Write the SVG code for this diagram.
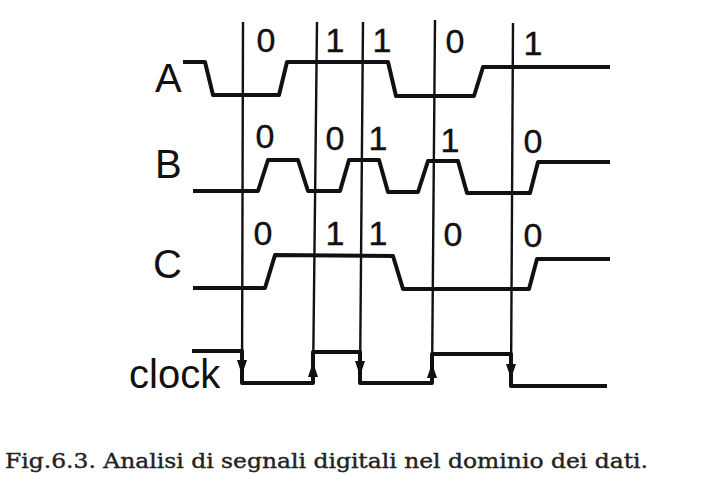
<svg xmlns="http://www.w3.org/2000/svg" width="702" height="479" viewBox="0 0 702 479">
<style>
.sig{fill:none;stroke:#111;stroke-width:4;stroke-linejoin:round;stroke-linecap:butt}
.grid{stroke:#111;stroke-width:2.4}
.lbl{font-family:"Liberation Sans",Arial,sans-serif;font-size:40px;fill:#111}
.dig{font-family:"Liberation Sans",Arial,sans-serif;font-size:34px;fill:#111;text-anchor:middle;stroke:#111;stroke-width:0.4}
.cap{font-family:"DejaVu Serif","Liberation Serif",serif;font-size:21px;fill:#222;stroke:#222;stroke-width:0.4}
</style>
<defs>
<path id="dn" d="M-5,-7 L5,-7 L0,8 Z" fill="#111"/>
<path id="up" d="M-5,7 L5,7 L0,-8 Z" fill="#111"/>
</defs>
<rect width="702" height="479" fill="#fff"/>
<g id="grid">
<line class="grid" x1="243" y1="22" x2="242" y2="383"/>
<line class="grid" x1="317" y1="22" x2="313" y2="383"/>
<line class="grid" x1="363" y1="22" x2="360" y2="383"/>
<line class="grid" x1="435" y1="20" x2="432" y2="383"/>
<line class="grid" x1="513" y1="23" x2="511" y2="386"/>
</g>
<g id="signal-A">
<text class="lbl" x="155" y="92">A</text>
<path class="sig" d="M183,62 L205,62 L213,95 L279,95 L287,62 L388,62 L396,96 L474,96 L483,67 L610,67"/>
<text class="dig" x="266" y="52">0</text>
<text class="dig" x="335" y="52">1</text>
<text class="dig" x="382" y="52">1</text>
<text class="dig" x="455" y="53">0</text>
<text class="dig" x="533" y="55">1</text>
</g>
<g id="signal-B">
<text class="lbl" x="155" y="178">B</text>
<path class="sig" d="M193,191 L258,191 L268,160 L298,160 L308,191 L340,191 L349,160 L379,160 L388,192 L418,192 L428,161 L458,161 L467,193 L530,193 L538,162 L610,162"/>
<text class="dig" x="265" y="148">0</text>
<text class="dig" x="335" y="150">0</text>
<text class="dig" x="378" y="150">1</text>
<text class="dig" x="450" y="152">1</text>
<text class="dig" x="533" y="153">0</text>
</g>
<g id="signal-C">
<text class="lbl" x="153" y="278">C</text>
<path class="sig" d="M193,288 L265,288 L275,255 L393,256 L403,289 L529,289 L537,259 L610,259"/>
<text class="dig" x="263" y="245">0</text>
<text class="dig" x="335" y="245">1</text>
<text class="dig" x="378" y="245">1</text>
<text class="dig" x="453" y="246">0</text>
<text class="dig" x="533" y="247">0</text>
</g>
<g id="signal-clock">
<text class="lbl" x="129" y="388">clock</text>
<path class="sig" d="M192,351 L242,351 L242,383 L313,383 L313,352 L360,352 L360,383 L432,383 L432,354 L511,354 L511,386 L607,386"/>
<use href="#dn" x="242" y="367"/>
<use href="#up" x="313" y="370"/>
<use href="#dn" x="360" y="368"/>
<use href="#up" x="432" y="371"/>
<use href="#dn" x="511" y="371"/>
</g>
<g id="caption">
<text class="cap" x="5" y="468" textLength="643" lengthAdjust="spacingAndGlyphs">Fig.6.3. Analisi di segnali digitali nel dominio dei dati.</text>
</g>
</svg>
